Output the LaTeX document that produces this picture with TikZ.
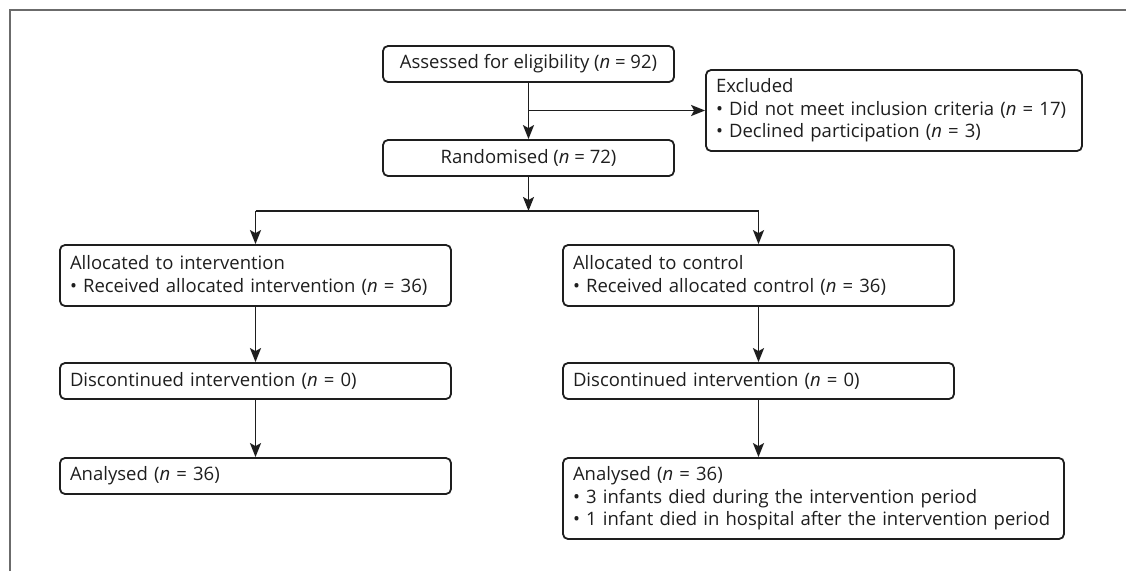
\documentclass[tikz,border=0pt]{standalone}
\usepackage{fontspec}
\setmainfont{Open Sans}
\usetikzlibrary{arrows.meta,calc}
\definecolor{framegray}{HTML}{6B6B6B}
\definecolor{ink}{HTML}{1E1E1E}
\begin{document}
\begin{tikzpicture}[x=1pt,y=-1pt,
  boxbase/.style={draw=ink, line width=1.8pt, rounded corners=5pt, inner xsep=10pt, inner ysep=0pt,
     font=\fontsize{18.5}{22.4}\selectfont, text=ink},
  lbox/.style n args={2}{boxbase, text width=#1pt-20pt, minimum height=#2pt, align=left},
  cbox/.style n args={2}{boxbase, minimum width=#1pt, minimum height=#2pt, align=center},
  arr/.style={draw=ink, line width=1.8pt, -{Stealth[length=14pt,width=11pt,inset=3pt]}},
  conn/.style={draw=ink, line width=1.8pt}
]
\useasboundingbox (0,0) rectangle (1126,571);
\draw[framegray, line width=2pt] (10,571) -- (10,10) -- (1126,10);

\node[cbox={291}{36}] (assess) at (528.5,64) {Assessed for eligibility (\textit{n} = 92)};
\node[cbox={291}{36}] (rand) at (528.5,158) {Randomised (\textit{n} = 72)};
\node[lbox={376}{81}] (excl) at (894,110.5) {\mbox{Excluded}\\ \mbox{• Did not meet inclusion criteria (\textit{n} = 17)}\\ \mbox{• Declined participation (\textit{n} = 3)}};
\node[lbox={391}{61}] (int) at (255.5,275.5) {\mbox{Allocated to intervention}\\ \mbox{• Received allocated intervention (\textit{n} = 36)}};
\node[lbox={391}{61}] (ctrl) at (758.5,275.5) {\mbox{Allocated to control}\\ \mbox{• Received allocated control (\textit{n} = 36)}};
\node[lbox={391}{36}] (dint) at (255.5,381) {\mbox{Discontinued intervention (\textit{n} = 0)}};
\node[lbox={391}{36}] (dctrl) at (758.5,381) {\mbox{Discontinued intervention (\textit{n} = 0)}};
\node[lbox={391}{36}] (aint) at (255.5,476) {\mbox{Analysed (\textit{n} = 36)}};
\node[lbox={501}{81}] (actrl) at (813.5,498.5) {\mbox{Analysed (\textit{n} = 36)}\\ \mbox{• 3 infants died during the intervention period}\\ \mbox{• 1 infant died in hospital after the intervention period}};

\coordinate (br) at (528.5,211);
\draw[arr] (assess.south) -- (rand.north);
\draw[arr] (assess.south |- excl.west) -- (excl.west);
\draw[arr] (rand.south) -- (br);
\draw[conn] (int.north |- br) -- (ctrl.north |- br);
\draw[arr] (int.north |- br) -- (int.north);
\draw[arr] (ctrl.north |- br) -- (ctrl.north);
\draw[arr] (int.south) -- (dint.north);
\draw[arr] (ctrl.south) -- (dctrl.north);
\draw[arr] (dint.south) -- (aint.north);
\draw[arr] (dctrl.south) -- (dctrl.south |- actrl.north);
\end{tikzpicture}
\end{document}
